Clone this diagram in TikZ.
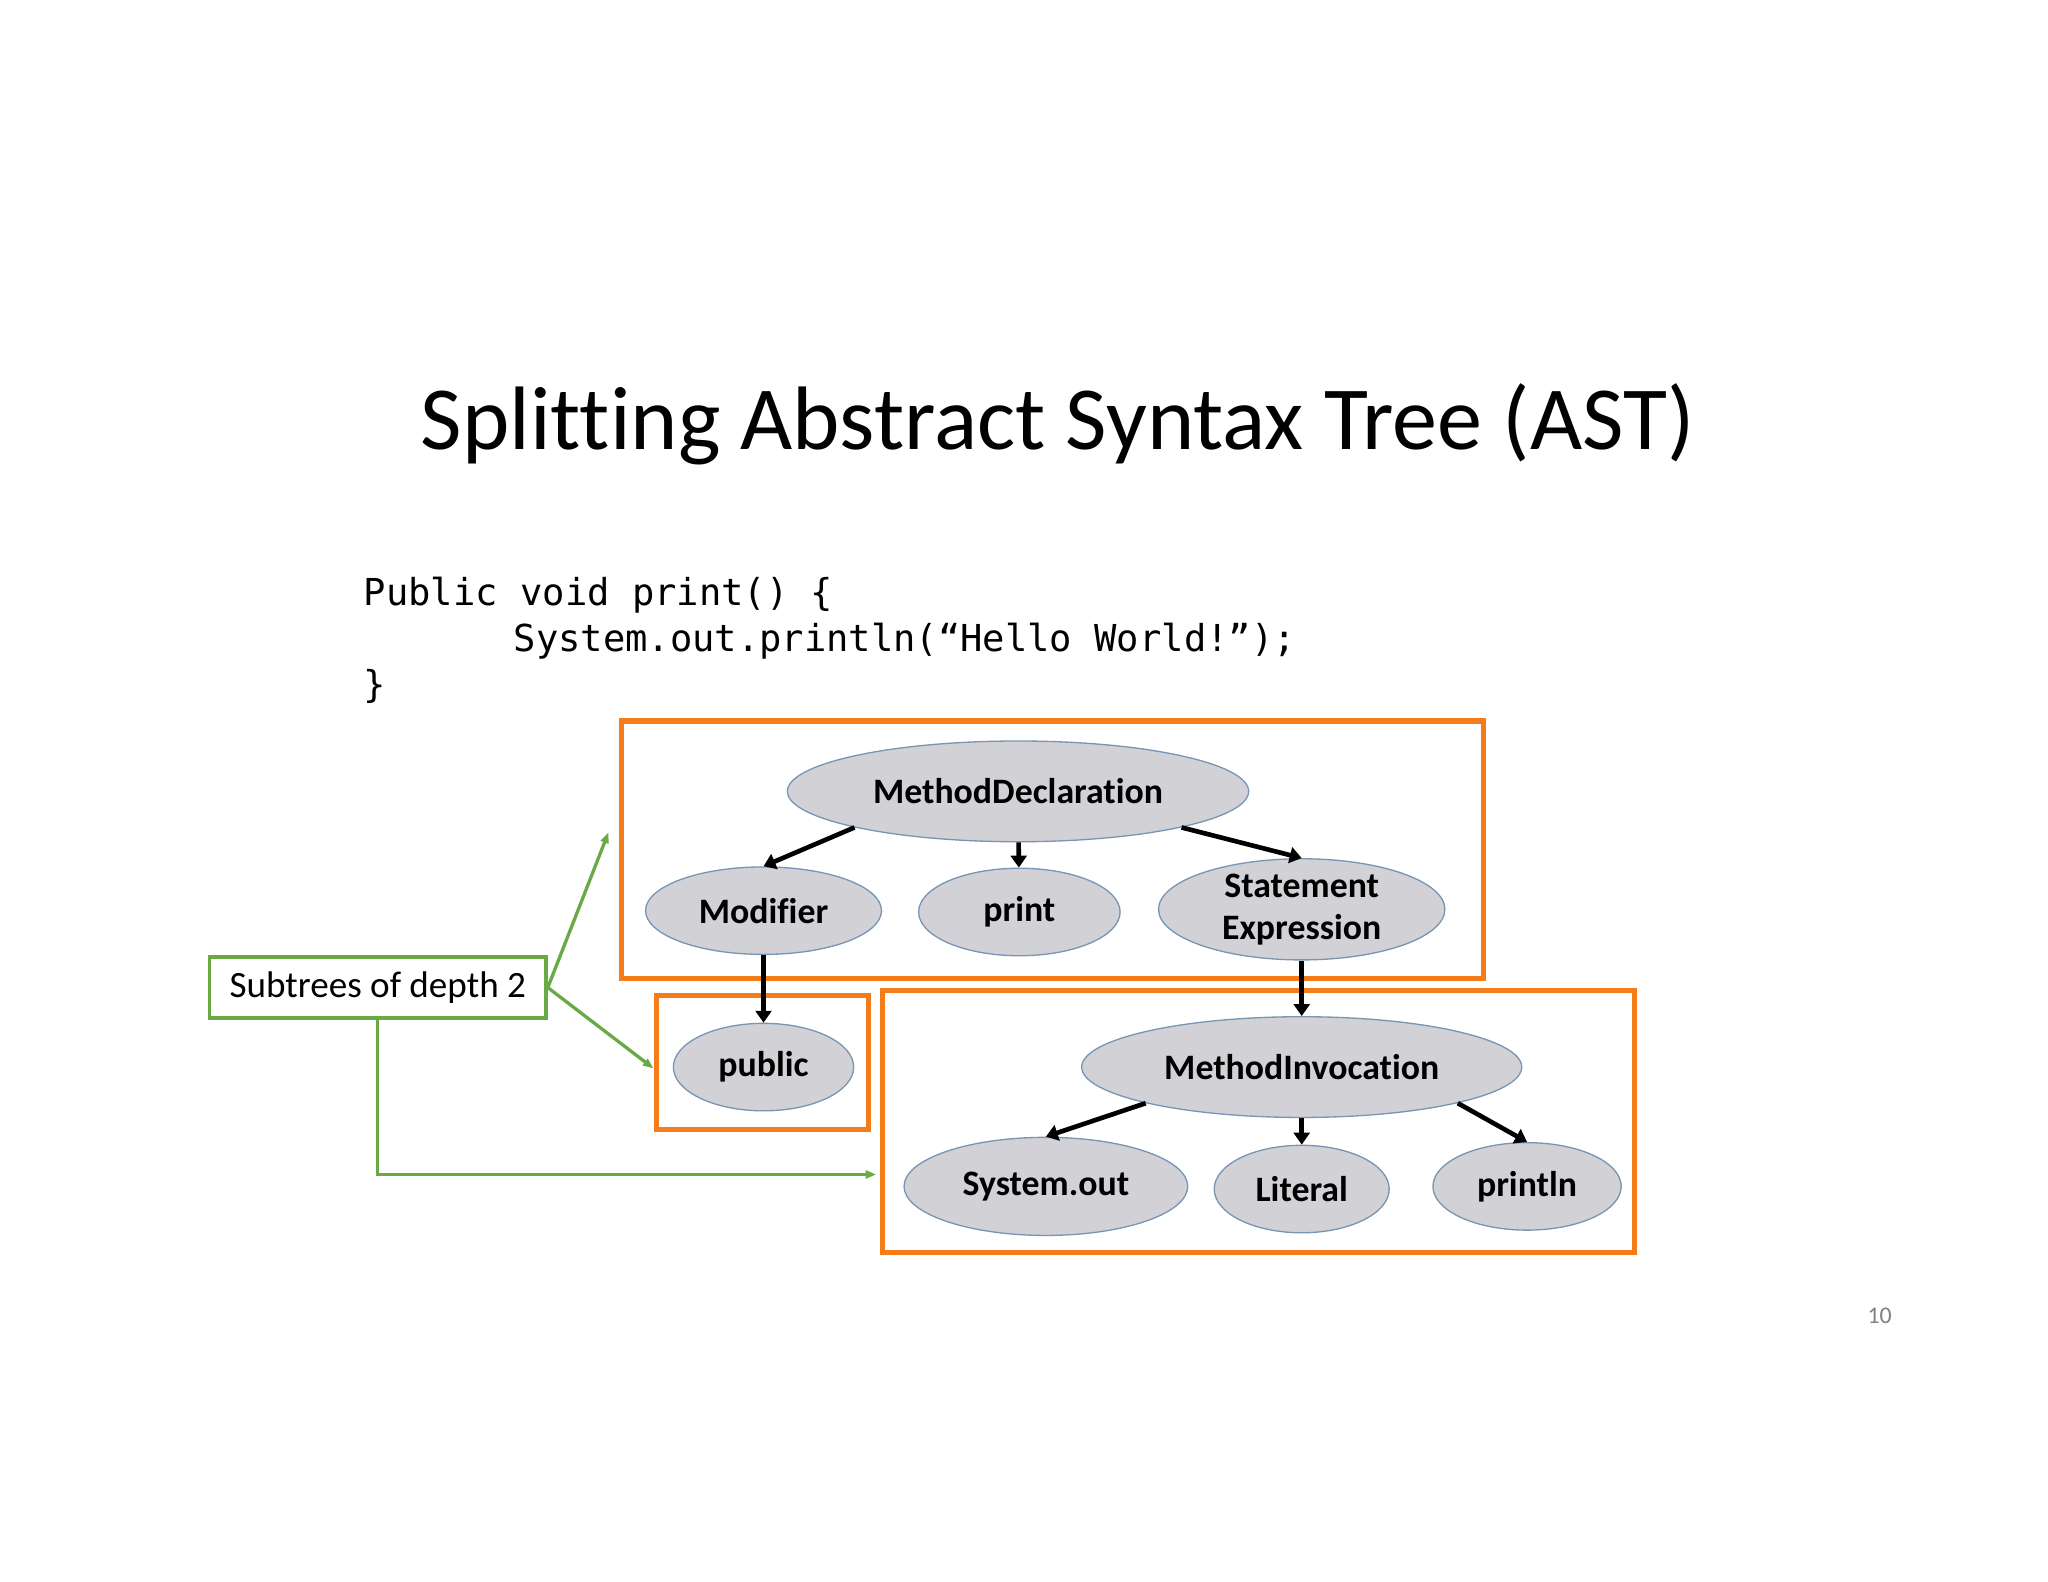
\documentclass[tikz,border=0pt]{standalone}
\usepackage{fontspec}
\setmainfont{Carlito}[Ligatures=NoCommon]
\newfontfamily\codefont{DejaVu Sans Mono}
\usetikzlibrary{arrows.meta,shapes.geometric}
\definecolor{nodegray}{RGB}{210,210,214}
\definecolor{nodeedge}{RGB}{120,150,180}
\definecolor{boxorange}{RGB}{245,125,25}
\definecolor{notegreen}{RGB}{106,170,70}
\tikzstyle{ast node}=[fill=nodegray, draw=nodeedge, line width=1pt, shape=ellipse, inner sep=0pt, font=\fontsize{27}{30}\selectfont\bfseries]
\tikzstyle{ast edge}=[draw=black, line width=3.5pt, -{Triangle[length=9pt,width=12pt]}]
\tikzstyle{subtree box}=[draw=boxorange, line width=4pt]
\tikzstyle{note edge}=[draw=notegreen, line width=2.5pt, -{Triangle[length=8pt,width=6pt]}]

\begin{document}
\begin{tikzpicture}[x=1pt, y=-1pt]
	\useasboundingbox (0,0) rectangle (1545,1193);
	\node [font=\fontsize{68}{76}\selectfont] (title) at (798,320) {Splitting Abstract Syntax Tree (AST)};
	\node [anchor=west, font=\codefont\fontsize{28}{32}\selectfont] (code1) at (271,449) {Public void print() \{};
	\node [anchor=west, font=\codefont\fontsize{28}{32}\selectfont] (code2) at (384,484) {System.out.println(“Hello World!”);};
	\node [anchor=west, font=\codefont\fontsize{28}{32}\selectfont] (code3) at (271,518) {\}};

	\draw [subtree box] (469,544) rectangle (1119,738);
	\draw [subtree box] (495,751) rectangle (655,852);
	\draw [subtree box] (666,747) rectangle (1233,945);

	\node [style=ast node, minimum width=348, minimum height=76] (md) at (768,597) {MethodDeclaration};
	\node [style=ast node, minimum width=178, minimum height=66] (mod) at (576,687) {Modifier};
	\node [style=ast node, minimum width=152, minimum height=66] (pr) at (769,688) {print};
	\node [style=ast node, minimum width=216, minimum height=76, align=center] (se) at (982,686) {Statement\\[2pt]Expression};
	\node [style=ast node, minimum width=136, minimum height=66] (pub) at (576,805) {public};
	\node [style=ast node, minimum width=332, minimum height=76] (mi) at (982,805) {MethodInvocation};
	\node [style=ast node, minimum width=214, minimum height=74] (so) at (789,895) {System.out};
	\node [style=ast node, minimum width=132, minimum height=66] (lit) at (982,897) {Literal};
	\node [style=ast node, minimum width=142, minimum height=66] (pln) at (1152,895) {println};

	\draw [style=ast edge] (md.south west) to (mod.north);
	\draw [style=ast edge] (md) to (pr);
	\draw [style=ast edge] (md.south east) to (se.north);
	\draw [style=ast edge] (mod) to (pub);
	\draw [style=ast edge] (se) to (mi);
	\draw [style=ast edge] (mi.south west) to (so.north);
	\draw [style=ast edge] (mi) to (lit);
	\draw [style=ast edge] (mi.south east) to (pln.north);

	\node [draw=notegreen, line width=2.5pt, minimum width=254, minimum height=46, font=\fontsize{28}{30}\selectfont] (note) at (285,745) {Subtrees of depth 2};
	\coordinate (top box) at (459,628);
	\coordinate (pub box) at (493,806);
	\coordinate (bottom box) at (661,886);
	\draw [style=note edge] (note.east) to (top box);
	\draw [style=note edge] (note.east) to (pub box);
	\draw [style=note edge] (note.south) |- (bottom box);

	\node [text=gray, font=\fontsize{18}{20}\selectfont] (page) at (1418,993) {10};
\end{tikzpicture}
\end{document}
